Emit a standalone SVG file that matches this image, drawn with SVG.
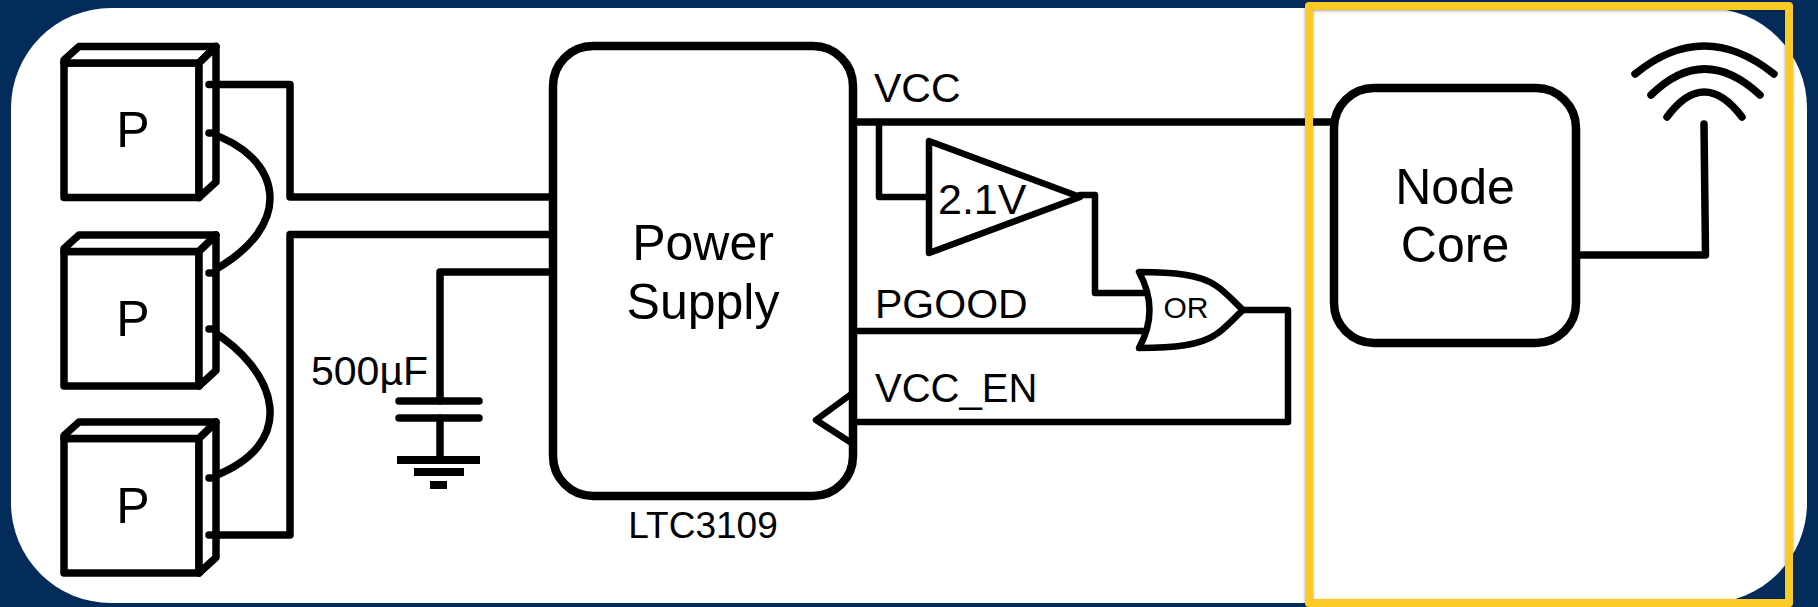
<svg xmlns="http://www.w3.org/2000/svg" width="1818" height="607" viewBox="0 0 1818 607">
<style>
.l{fill:none;stroke:#000;stroke-width:7.5;stroke-linecap:round;stroke-linejoin:round}
.t{stroke-width:6.5}
.b{fill:#fff;stroke:#000;stroke-width:8.500}
text{font-family:"Liberation Sans",Arial,sans-serif;fill:#000}
.m{text-anchor:middle}
.x{font-size:50px}
.s{font-size:41px}
</style>
<defs>
<filter id="sh" x="-3%" y="-3%" width="106%" height="106%"><feDropShadow dx="0" dy="1" stdDeviation="1.5" flood-color="#000" flood-opacity=".35"/></filter>
<g id="panel">
<path class="l" style="fill:#fff" d="M64 63H199V197.500H64Z"/>
<path class="l" style="fill:#fff" d="M64 60L79 46.500H216L199 63H64Z"/>
<path class="l" style="fill:#fff" d="M199 63L216 46.500V182L199 197.500Z"/>
<text class="x m" x="133" y="147">P</text>
</g>
</defs>
<rect id="bg" width="1818" height="607" fill="#042c5a"/>
<rect id="card" x="11" y="8" width="1796" height="595" rx="100" ry="100" fill="#fff"/>

<g id="connectors">
<path class="l" d="M209 84.500H290V197H553"/>
<path class="l" d="M209 133C280 155 300 225 209 273"/>
<path class="l" d="M209 329C278 370 302 445 209 478"/>
<path class="l" d="M209 535H290V234.500H553"/>
<path class="l" d="M553 272H440V401"/>
<path class="l" d="M440 418V460"/>
<path class="l" d="M853 122H1334"/>
<path class="l t" d="M879 122V197H929"/>
<path class="l t" d="M1080 195H1095V293H1147"/>
<path class="l t" d="M853 331H1146"/>
<path class="l t" d="M1243 310H1288V422H853"/>
<path class="l" d="M1576 255H1705.500L1704 124"/>
</g>

<g id="panel1"><use href="#panel"/></g>
<g id="panel2"><use href="#panel" y="188.500"/></g>
<g id="panel3"><use href="#panel" y="375.500"/></g>
<g id="terminals">
<path class="l" d="M209 84.500h2M209 133h2M209 273h2M209 329h2M209 478h2M209 535h2"/>
</g>

<g id="capacitor">
<path class="l" d="M399 401H479M399 418H479"/>
<path d="M397 460H480M414 472H464M430 485H447" fill="none" stroke="#000" stroke-width="8"/>
<text class="s" x="311" y="385">500µF</text>
</g>

<g id="power-supply">
<rect class="b" x="553" y="46" width="300" height="450" rx="40" ry="40"/>
<path class="l t" d="M850 395L816 420L850 442"/>
<text class="x m" x="703" y="260">Power</text>
<text class="x m" x="703" y="319">Supply</text>
<text class="m" font-size="37" x="703" y="538">LTC3109</text>
</g>

<g id="labels">
<text class="s" x="874" y="102">VCC</text>
<text class="s" x="875" y="318">PGOOD</text>
<text font-size="40" x="875" y="402">VCC_EN</text>
</g>

<g id="comparator">
<path class="l t" style="fill:#fff" d="M929 141V253L1080 197Z"/>
<text x="938" y="214" font-size="43">2.1V</text>
</g>

<g id="or-gate">
<path class="l t" style="fill:#fff" d="M1139 272C1175 272 1200 275 1215 285C1225 291 1232 300 1243 310C1232 320 1225 329 1215 335C1200 345 1175 348 1139 348Q1160 310 1139 272Z"/>
<text class="m" font-size="30" x="1186" y="318">OR</text>
</g>

<g id="node-core">
<rect class="b" x="1334" y="88" width="242" height="255" rx="40" ry="40"/>
<text class="x m" x="1455" y="204">Node</text>
<text class="x m" x="1455" y="262">Core</text>
</g>

<g id="antenna">
<path class="l" d="M1635 74Q1704 18 1774 74M1651 95Q1704 43 1760 95M1667 117Q1704 67 1742 117"/>
</g>

<rect id="highlight" x="1309" y="6" width="480" height="597" fill="none" stroke="#fcca26" stroke-width="8" stroke-linejoin="round" filter="url(#sh)"/>
</svg>
